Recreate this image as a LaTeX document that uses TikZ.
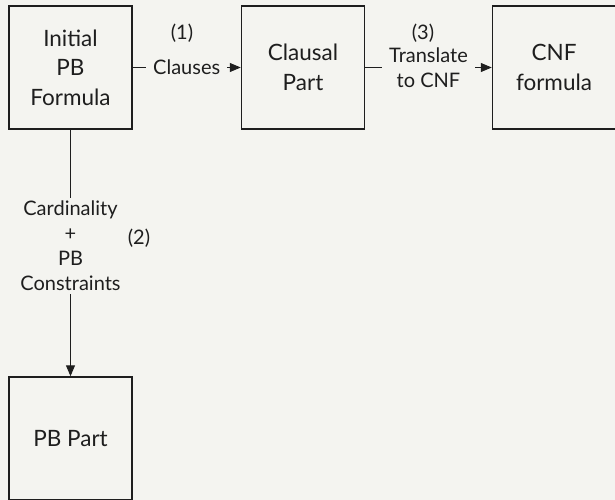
\documentclass[tikz,border=0pt]{standalone}
\usepackage{fontspec}
\setmainfont{Lato}
\usetikzlibrary{arrows.meta}
\definecolor{paper}{HTML}{F4F4F0}
\definecolor{ink}{HTML}{1E1E1E}
\begin{document}
\begin{tikzpicture}[x=1pt,y=-1pt,
  block/.style={draw=ink,line width=1.5pt,fill=paper,minimum width=123pt,minimum height=123pt,
    align=center,inner sep=0pt,font=\fontsize{22.5}{29.5}\selectfont,text=ink},
  flow/.style={draw=ink,line width=1pt,-{Triangle[length=11pt,width=9pt]}},
  tag/.style={fill=paper,align=center,inner xsep=7pt,inner ysep=3pt,font=\fontsize{20}{25}\selectfont,text=ink},
  num/.style={align=center,inner sep=0pt,font=\fontsize{20}{25}\selectfont,text=ink}]
  % page
  \fill[paper] (0,0) rectangle (615,500);
  \useasboundingbox (0,0) rectangle (615,500);
  % blocks
  \node[block] (init) at (70.5,67.5) {Initial\\PB\\Formula};
  \node[block] (claus) at (303,67.5) {Clausal\\Part};
  \node[block] (cnf) at (554,67.5) {CNF\\formula};
  \node[block] (pb) at (70.5,438.5) {PB Part};
  % connectors
  \draw[flow] (init.east) -- node[tag] (lclauses) {Clauses} (claus.west);
  \draw[flow] (claus.east) -- node[tag] (ltrans) {Translate\\to CNF} (cnf.west);
  \draw[flow] (init.south) -- node[tag,pos=0.47] (lcard) {Cardinality\\+\\PB\\Constraints} (pb.north);
  % step numbers
  \node[num] (n1) at (182,33) {(1)};
  \node[num] (n3) at (423,33) {(3)};
  \node[num] (n2) at (139,238) {(2)};
\end{tikzpicture}
\end{document}
